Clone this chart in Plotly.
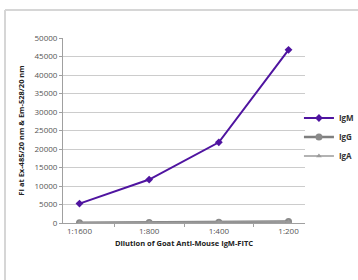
import plotly.graph_objects as go

categories = ["1:1600", "1:800", "1:400", "1:200"]
igm = [5250, 11750, 21800, 46800]
igg = [100, 150, 200, 400]
iga = [80, 120, 180, 350]
y_ticks = [0, 5000, 10000, 15000, 20000, 25000, 30000, 35000, 40000, 45000, 50000]

FONT = "Open Sans"
fig = go.Figure()
fig.add_trace(go.Scatter(x=categories, y=igm, name="IgM", mode="lines+markers",
                         line=dict(color="#4f14a0", width=2),
                         marker=dict(symbol="diamond", size=6, color="#4f14a0")))
fig.add_trace(go.Scatter(x=categories, y=igg, name="IgG", mode="lines+markers",
                         line=dict(color="#7f7f7f", width=2.5),
                         marker=dict(symbol="circle", size=7, color="#8a8a8a")))
fig.add_trace(go.Scatter(x=categories, y=iga, name="IgA", mode="lines+markers",
                         line=dict(color="#9a9a9a", width=1.5),
                         marker=dict(symbol="triangle-up", size=5, color="#9a9a9a")))

fig.update_layout(
    width=358, height=280,
    margin=dict(l=63, r=53, t=38, b=57, autoexpand=False),
    paper_bgcolor="white", plot_bgcolor="white",
    font=dict(family=FONT, size=8, color="#444"),
    showlegend=True,
    legend=dict(x=0.975, y=0.465, xanchor="left", yanchor="middle",
                font=dict(family=FONT, size=8, color="#333", weight="bold"),
                itemwidth=30, tracegroupgap=0, bgcolor="rgba(0,0,0,0)"),
    xaxis=dict(type="category", showgrid=False, showline=True, linecolor="#a0a0a0",
               linewidth=1, ticks="outside", ticklen=3, tickcolor="#a0a0a0",
               tickson="boundaries", tickfont=dict(family=FONT, size=8, color="#555"),
               automargin=False,
               title=dict(text="Dilution of Goat Anti-Mouse IgM-FITC",
                          font=dict(family=FONT, size=7.5, color="#222", weight="bold"),
                          standoff=6),
               zeroline=False),
    yaxis=dict(range=[0, 50000], tickvals=y_ticks, showgrid=True, gridcolor="#cccccc",
               gridwidth=1, showline=True, linecolor="#a0a0a0", linewidth=1,
               ticks="outside", ticklen=3, tickcolor="#a0a0a0", zeroline=False,
               automargin=False,
               tickformat="d", tickfont=dict(family=FONT, size=8, color="#555"),
               title=dict(text="FI at Ex-485/20 nm & Em-528/20 nm",
                          font=dict(family=FONT, size=7.5, color="#222", weight="bold"),
                          standoff=8)),
    shapes=[
        dict(type="line", xref="paper", yref="paper", x0=-58/242, x1=1.3, y0=1+28/185, y1=1+28/185,
             line=dict(color="#d6d6d6", width=2), layer="above"),
        dict(type="line", xref="paper", yref="paper", x0=-58/242, x1=-58/242, y0=-0.4, y1=1+28/185,
             line=dict(color="#d6d6d6", width=2), layer="above"),
    ],
)
fig.write_html("out.html", config={"displayModeBar": False},
               post_script="document.body.style.margin='0';")
